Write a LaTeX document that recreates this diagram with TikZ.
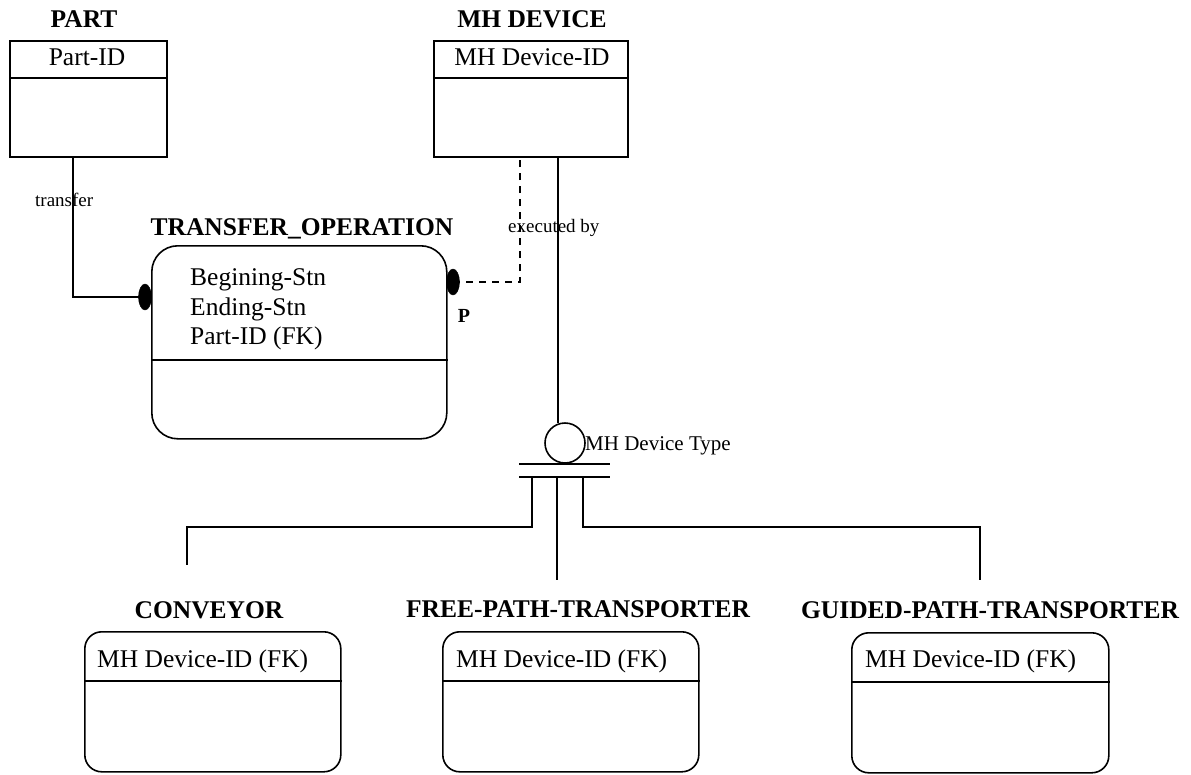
\documentclass[tikz,border=0pt]{standalone}
\usepackage{fontspec}
\setmainfont{Liberation Serif}
\usetikzlibrary{shapes.geometric}

\tikzset{
  ent/.style={draw, line width=1.6pt, rectangle, anchor=north west, inner sep=0pt},
  depent/.style={ent, rounded corners=17pt},
  title/.style={font=\fontsize{25.5}{28}\selectfont\bfseries, anchor=base, inner sep=0pt},
  attr/.style={font=\fontsize{25.5}{28}\selectfont, anchor=base west, inner sep=0pt},
  attrc/.style={font=\fontsize{25.5}{28}\selectfont, anchor=base, inner sep=0pt},
  small/.style={font=\fontsize{19}{21}\selectfont, anchor=base west, inner sep=0pt},
  link/.style={line width=1.6pt},
  blob/.style={ellipse, fill=black, draw=black, inner sep=0pt, minimum width=13pt, minimum height=26pt},
}

\begin{document}
\begin{tikzpicture}[x=1pt, y=-1pt]
\useasboundingbox[fill=white] (0,0) rectangle (1191,774);

% independent entities
\node[ent, minimum width=157pt, minimum height=116pt] (part) at (9,40) {};
\draw[link] (part.west |- 0,78) -- (part.east |- 0,78);
\node[title] (parttitle) at (84,27) {PART};
\node[attrc] (partid) at (87,65) {Part-ID};

\node[ent, minimum width=194pt, minimum height=116pt] (mh) at (433,40) {};
\draw[link] (mh.west |- 0,78) -- (mh.east |- 0,78);
\node[title] (mhtitle) at (532,27) {MH DEVICE};
\node[attrc] (mhid) at (532,65) {MH Device-ID};

% transfer operation
\node[ent, rounded corners=26pt, minimum width=295pt, minimum height=193pt] (op) at (151,245) {};
\draw[link] (op.west |- 0,360) -- (op.east |- 0,360);
\node[title] (optitle) at (302,235) {TRANSFER\_OPERATION};
\node[attr] (opa) at (190,285.5) {Begining-Stn};
\node[attr] (opb) at (190,315) {Ending-Stn};
\node[attr] (opc) at (190,344) {Part-ID (FK)};

\node[blob] (lb) at (145,297) {};
\node[blob] (rb) at (453,282) {};
\node[font=\fontsize{20}{22}\selectfont\bfseries, anchor=base, inner sep=0pt] (plabel) at (464,322) {P};

% relationships
\draw[link] (part.south -| 73,0) |- (lb.center);
\node[small] (transfer) at (35,206) {transfer};
\draw[line width=1.2pt, dashed, dash pattern=on 7pt off 6pt] (rb.center) -| (mh.south -| 520,0);
\node[small] (execby) at (508,232) {executed by};

% category symbol
\node[circle, draw, line width=1.6pt, minimum size=40pt, inner sep=0pt] (cat) at (565,443) {};
\draw[link] (mh.south -| cat.110) -- (cat.110);
\node[font=\fontsize{21}{23}\selectfont, anchor=base west, inner sep=0pt] (cattype) at (585,450) {MH Device Type};
\draw[link] ([xshift=-46pt]cat.south) -- ([xshift=45pt]cat.south);
\draw[link] ([shift={(-46pt,-13pt)}]cat.south) -- ([shift={(45pt,-13pt)}]cat.south);

\coordinate (dl) at (532,476);
\coordinate (dm) at (557,476);
\coordinate (dr) at (583,476);
\coordinate (el) at (187,565);
\coordinate (em) at (557,580);
\coordinate (er) at (980,580);
\draw[link] (dl) |- (el |- 0,527) -- (el);
\draw[link] (dm) -- (em);
\draw[link] (dr) |- (er |- 0,527) -- (er);

% subtype entities
\node[depent, minimum width=256pt, minimum height=140pt] (conv) at (84,631) {};
\draw[link] (conv.west |- 0,681) -- (conv.east |- 0,681);
\node[title] (convtitle) at (209,618) {CONVEYOR};
\node[attr] (convid) at (97,667) {MH Device-ID (FK)};

\node[depent, minimum width=256pt, minimum height=140pt] (free) at (442,631) {};
\draw[link] (free.west |- 0,681) -- (free.east |- 0,681);
\node[title] (freetitle) at (578,617) {FREE-PATH-TRANSPORTER};
\node[attr] (freeid) at (456,667) {MH Device-ID (FK)};

\node[depent, minimum width=257pt, minimum height=140pt] (guid) at (851,632) {};
\draw[link] (guid.west |- 0,682) -- (guid.east |- 0,682);
\node[title] (guidtitle) at (990,618) {GUIDED-PATH-TRANSPORTER};
\node[attr] (guidid) at (865,667) {MH Device-ID (FK)};
\end{tikzpicture}
\end{document}
